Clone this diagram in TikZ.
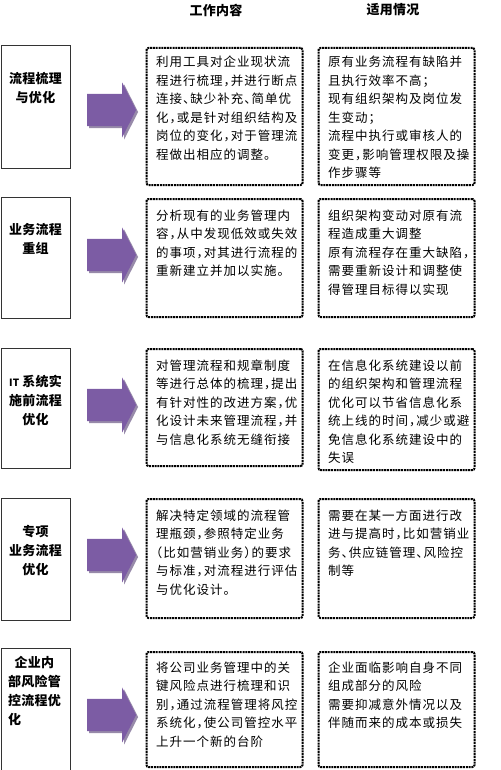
\documentclass[tikz,border=0pt]{standalone}
\usepackage{fontspec}
\usetikzlibrary{shapes.arrows,shadows}
\newfontfamily\cjk{Noto Sans CJK SC}[LetterSpace=8,CharacterWidth=AlternateHalf]
\newfontfamily\cjkbold{Noto Sans CJK SC}[LetterSpace=2,CharacterWidth=AlternateHalf]
\definecolor{arrowpurple}{RGB}{124,92,164}
\definecolor{shadepurple}{RGB}{140,125,160}

\begin{document}
\begin{tikzpicture}[x=1pt, y=-1pt,
  lbox/.style={draw=black!80, line width=0.7pt, minimum width=69pt, inner sep=0pt},
  dbox/.style={draw=black, line width=2pt, dash pattern=on 2pt off 0.8pt,
    rounded corners=2pt, minimum width=156pt, inner sep=0pt},
  ltext/.style={font=\cjkbold\bfseries\fontsize{13}{19}\selectfont, align=center, inner sep=0pt},
  btext/.style={font=\cjk\fontsize{12.5}{18.5}\selectfont, align=left, text width=155pt,
    anchor=base west, inner sep=0pt},
  head/.style={font=\cjkbold\bfseries\fontsize{13}{16}\selectfont, inner sep=0pt},
  flow/.style={single arrow, fill=arrowpurple, minimum height=49pt, minimum width=55pt,
    inner xsep=0pt, inner ysep=16pt, single arrow head extend=11.5pt,
    single arrow tip angle=126, single arrow head indent=0pt,
    drop shadow={shadow xshift=2pt, shadow yshift=-2pt, fill=shadepurple, opacity=0.9}}]
  \useasboundingbox (0,0) rectangle (500,770);
  % Headers
  \node[head] (h1) at (216,10) {工作内容};
  \node[head] (h2) at (393,10) {适用情况};
  % Row 1
  \node[lbox, minimum height=123pt] (l1) at (35.5,106.5) {};
  \node[ltext] (l1t) at (35.5,88) {流程梳理\\与优化};
  \node[flow] (a1) at (107.5,110) {};
  \node[dbox, minimum height=137pt] (w1) at (224.5,116.5) {};
  \node[dbox, minimum height=137pt] (s1) at (396.5,116.5) {};
  \node[btext] (w1t) at (156,67) {利用工具对企业现状流\\程进行梳理，并进行断点\\连接、缺少补充、简单优\\化，或是针对组织结构及\\岗位的变化，对于管理流\\程做出相应的调整。};
  \node[btext] (s1t) at (328,67) {原有业务流程有缺陷并\\且执行效率不高；\\现有组织架构及岗位发\\生变动；\\流程中执行或审核人的\\变更，影响管理权限及操\\作步骤等};
  % Row 2
  \node[lbox, minimum height=121pt] (l2) at (35.5,257.5) {};
  \node[ltext] (l2t) at (35.5,239) {业务流程\\重组};
  \node[flow] (a2) at (107.5,255) {};
  \node[dbox, minimum height=118pt] (w2) at (224.5,258) {};
  \node[dbox, minimum height=118pt] (s2) at (396.5,258) {};
  \node[btext] (w2t) at (156,220) {分析现有的业务管理内\\容，从中发现低效或失效\\的事项，对其进行流程的\\重新建立并加以实施。};
  \node[btext] (s2t) at (328,220) {组织架构变动对原有流\\程造成重大调整\\原有流程存在重大缺陷，\\需要重新设计和调整使\\得管理目标得以实现};
  % Row 3
  \node[lbox, minimum height=120pt] (l3) at (35.5,408) {};
  \node[ltext] (l3t) at (35.5,400) {{\fontsize{10}{10}\selectfont IT} 系统实\\施前流程\\优化};
  \node[flow] (a3) at (107.5,405) {};
  \node[dbox, minimum height=117pt] (w3) at (224.5,407.5) {};
  \node[dbox, minimum height=121pt] (s3) at (396.5,409.5) {};
  \node[btext] (w3t) at (156,370) {对管理流程和规章制度\\等进行总体的梳理，提出\\有针对性的改进方案，优\\化设计未来管理流程，并\\与信息化系统无缝衔接};
  \node[btext] (s3t) at (328,370) {在信息化系统建设以前\\的组织架构和管理流程\\优化可以节省信息化系\\统上线的时间，减少或避\\免信息化系统建设中的\\失误};
  % Row 4
  \node[lbox, minimum height=122pt] (l4) at (35.5,559) {};
  \node[ltext] (l4t) at (35.5,551) {专项\\业务流程\\优化};
  \node[flow] (a4) at (107.5,555) {};
  \node[dbox, minimum height=119pt] (w4) at (224.5,558.5) {};
  \node[dbox, minimum height=119pt] (s4) at (396.5,558.5) {};
  \node[btext] (w4t) at (156,520) {解决特定领域的流程管\\理瓶颈，参照特定业务\\（比如营销业务）的要求\\与标准，对流程进行评估\\与优化设计。};
  \node[btext] (s4t) at (328,520) {需要在某一方面进行改\\进与提高时，比如营销业\\务、供应链管理、风险控\\制等};
  % Row 5
  \node[lbox, minimum height=127pt] (l5) at (35.5,711.5) {};
  \node[ltext, align=left, anchor=west] (l5t) at (8,690.5) {\hspace*{0.5em}企业内\\部风险管\\控流程优\\化};
  \node[flow] (a5) at (107.5,715) {};
  \node[dbox, minimum height=115pt] (w5) at (224.5,709.5) {};
  \node[dbox, minimum height=115pt] (s5) at (396.5,709.5) {};
  \node[btext] (w5t) at (156,672) {将公司业务管理中的关\\键风险点进行梳理和识\\别，通过流程管理将风控\\系统化，使公司管控水平\\上升一个新的台阶};
  \node[btext] (s5t) at (328,672) {企业面临影响自身不同\\组成部分的风险\\需要抑减意外情况以及\\伴随而来的成本或损失};
\end{tikzpicture}
\end{document}
